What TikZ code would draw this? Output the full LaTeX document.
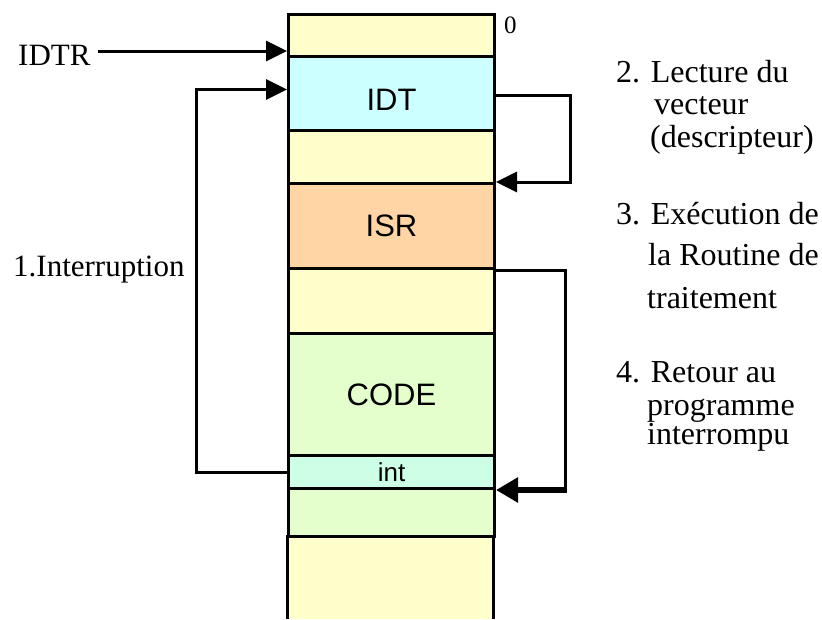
\documentclass[tikz,border=0pt]{standalone}
\usepackage{fontspec}
\setmainfont{Liberation Serif}
\newfontfamily\arialf{Liberation Sans}
\usetikzlibrary{arrows.meta}
\definecolor{memyellow}{HTML}{FFFFCC}
\definecolor{idtcyan}{HTML}{CCFFFF}
\definecolor{isrorange}{HTML}{FFD5A6}
\definecolor{codegreen}{HTML}{E4FFCC}
\definecolor{intmint}{HTML}{CCFFE6}
\begin{document}
\begin{tikzpicture}[x=1pt,y=-1pt,
  seg/.style={draw=black, line width=3pt, minimum width=206pt, inner sep=0pt,
    anchor=north west, font=\arialf\fontsize{31}{33}\selectfont},
  lbl/.style={inner sep=0pt, anchor=base west, font=\fontsize{31}{33}\selectfont},
  rlbl/.style={lbl, font=\fontsize{32}{34}\selectfont},
  conn/.style={line width=3pt, -{Triangle[length=21pt,width=20pt]}},
]
\useasboundingbox (0,0) rectangle (822,619);
% memory column
\fill[memyellow] (287,535) rectangle (493,619);
\draw[line width=3pt] (287,535) -- (287,619) (493,535) -- (493,619);
\node[seg, fill=memyellow, minimum height=42.3pt] (top) at (287,12.7) {};
\node[seg, fill=idtcyan, minimum height=74pt, text height=34pt, text depth=0pt] (idt) at (287,55) {IDT};
\node[seg, fill=memyellow, minimum height=53pt] (y2) at (287,129) {};
\node[seg, fill=isrorange, minimum height=85pt] (isr) at (287,182) {ISR};
\node[seg, fill=memyellow, minimum height=65pt] (y3) at (287,267) {};
\node[seg, fill=codegreen, minimum height=122pt] (code) at (287,332) {CODE};
\node[seg, fill=intmint, minimum height=33pt, font=\arialf\fontsize{26}{28}\selectfont] (int) at (287,454) {int};
\node[seg, fill=codegreen, minimum height=48pt] (g2) at (287,487) {};
% labels
\node[lbl, font=\fontsize{25}{27}\selectfont] (zero) at (504,33) {0};
\node[lbl] (idtr) at (18,65) {IDTR};
\node[lbl] (interr) at (13,276) {1.Interruption};
\node[rlbl] (l2a) at (616,82) {2. Lecture du};
\node[rlbl] (l2b) at (654,114) {vecteur};
\node[rlbl] (l2c) at (650,147) {(descripteur)};
\node[rlbl] (l3a) at (616,224) {3. Exécution de};
\node[rlbl] (l3b) at (648,265) {la Routine de};
\node[rlbl] (l3c) at (647,308) {traitement};
\node[rlbl] (l4a) at (616,382) {4. Retour au};
\node[rlbl] (l4b) at (647,415) {programme};
\node[rlbl] (l4c) at (647,444) {interrompu};
% connectors
\coordinate (idtrtip) at (287,51);
\coordinate (lx) at (196,0);
\coordinate (idtin) at ([yshift=4pt]idt.west);
\coordinate (idtout) at ([yshift=-2pt]idt.east);
\draw[conn] ([xshift=7pt]idtr.east |- idtrtip) -- (idtrtip);
\draw[conn] (int.west) -| (lx |- idtin) -- (idtin);
\draw[conn] (idtout) -- ++(74,0) |- (isr.north east);
\draw[line width=3pt] (isr.south east) -- ++(69,0) coordinate (rc) -- (rc |- int.south east);
\draw[line width=5.5pt, -{Triangle[length=22pt,width=24pt]}] ([xshift=1.5pt]rc |- int.south east) -- (int.south east);
\end{tikzpicture}
\end{document}
